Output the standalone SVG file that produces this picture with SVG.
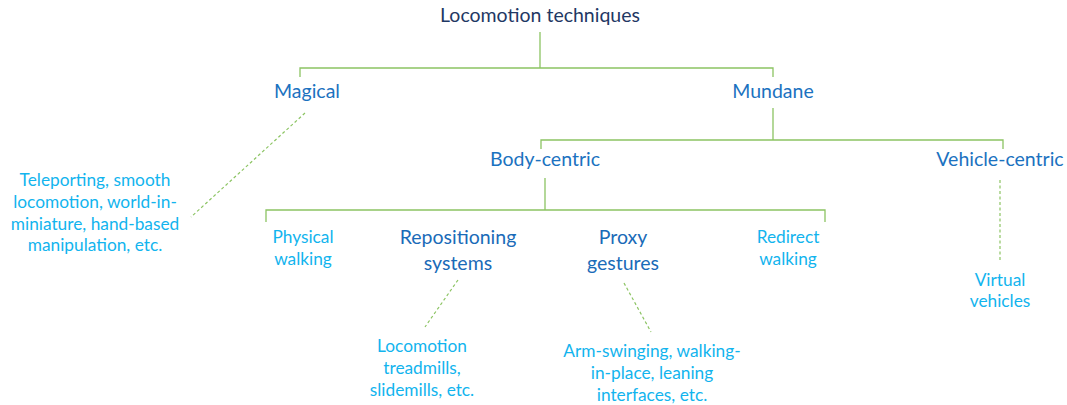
<svg xmlns="http://www.w3.org/2000/svg" width="1067" height="405" viewBox="0 0 1067 405">
  <style>
    text { font-family: Lato, "Open Sans", "Liberation Sans", sans-serif; text-anchor: middle; }
    .title { font-size: 19.5px; fill: #1F3864; }
    .cat { font-size: 19.5px; fill: #1B72C0; }
    .sub { font-size: 19.5px; fill: #1A6BB8; }
    .leaf { font-size: 17.3px; fill: #12B4EE; }
    .solid { stroke: #8CC463; stroke-width: 1.3; fill: none; }
    .dash { stroke: #8CC463; stroke-width: 1.2; fill: none; stroke-dasharray: 3 2.5; }
  </style>
  <rect width="1067" height="405" fill="#FFFFFF"/>

  <g id="connectors">
    <!-- root branch -->
    <path class="solid" d="M540,32 V68 M300,77 V68 H773 V77"/>
    <!-- mundane branch -->
    <path class="solid" d="M773,108 V140 M541,149 V140 H1003 V149"/>
    <!-- body-centric branch -->
    <path class="solid" d="M545,178 V210 M266,222 V210 H825 V222"/>
    <!-- example links -->
    <path class="dash" d="M305,113 L191,217"/>
    <path class="dash" d="M1000,180 V262"/>
    <path class="dash" d="M458,280 L425,327"/>
    <path class="dash" d="M624,283 L651,332"/>
  </g>

  <g id="root"><text class="title" x="540" y="22">Locomotion techniques</text></g>
  <g id="magical"><text class="cat" x="307" y="98">Magical</text></g>
  <g id="mundane"><text class="cat" x="773" y="98">Mundane</text></g>
  <g id="magical-examples">
    <text class="leaf" x="95" y="186">Teleporting, smooth</text>
    <text class="leaf" x="95" y="208">locomotion, world-in-</text>
    <text class="leaf" x="95" y="230">miniature, hand-based</text>
    <text class="leaf" x="95" y="251">manipulation, etc.</text>
  </g>
  <g id="body-centric"><text class="cat" x="545" y="166">Body-centric</text></g>
  <g id="vehicle-centric"><text class="cat" x="1000" y="166">Vehicle-centric</text></g>
  <g id="virtual-vehicles">
    <text class="leaf" x="1000" y="286">Virtual</text>
    <text class="leaf" x="1000" y="307">vehicles</text>
  </g>
  <g id="physical-walking">
    <text class="leaf" x="303" y="243">Physical</text>
    <text class="leaf" x="303" y="265">walking</text>
  </g>
  <g id="repositioning">
    <text class="sub" x="458" y="244">Repositioning</text>
    <text class="sub" x="458" y="270">systems</text>
  </g>
  <g id="proxy-gestures">
    <text class="sub" x="623" y="244">Proxy</text>
    <text class="sub" x="623" y="270">gestures</text>
  </g>
  <g id="redirect-walking">
    <text class="leaf" x="788" y="243">Redirect</text>
    <text class="leaf" x="788" y="265">walking</text>
  </g>
  <g id="repositioning-examples">
    <text class="leaf" x="422" y="352">Locomotion</text>
    <text class="leaf" x="422" y="374">treadmills,</text>
    <text class="leaf" x="422" y="396">slidemills, etc.</text>
  </g>
  <g id="proxy-examples">
    <text class="leaf" x="652" y="357">Arm-swinging, walking-</text>
    <text class="leaf" x="652" y="379">in-place, leaning</text>
    <text class="leaf" x="652" y="401">interfaces, etc.</text>
  </g>
</svg>
